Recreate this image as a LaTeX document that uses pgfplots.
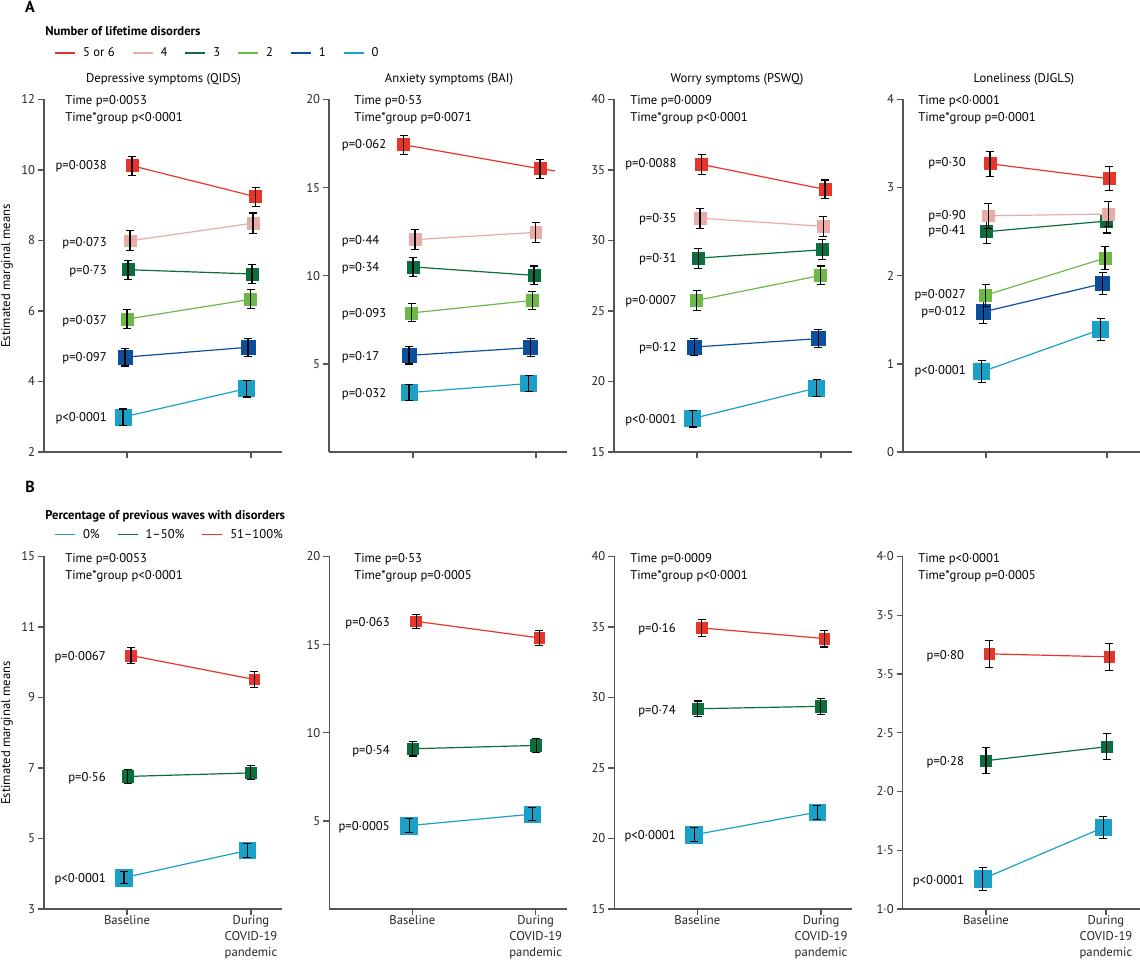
\documentclass[border=0pt]{standalone}
\usepackage{fontspec}
\setmainfont{PT Sans}
\usepackage{pgfplots}
\pgfplotsset{compat=1.18}
\definecolor{cR}{HTML}{E8352A}
\definecolor{cP}{HTML}{E9ABA7}
\definecolor{cDG}{HTML}{0B6E3E}
\definecolor{cLG}{HTML}{6DB946}
\definecolor{cB}{HTML}{0C4F9D}
\definecolor{cC}{HTML}{1BA1C7}
\definecolor{axgray}{HTML}{555555}
\newcommand{\fs}{\fontsize{9.5pt}{12pt}\selectfont}
\pgfplotsset{
  panel/.style={
    scale only axis, width=178.5pt, height=264.4pt, anchor=south west,
    xmin=0, xmax=238, clip=false, clip mode=individual,
    axis x line*=bottom, axis y line*=left,
    axis line style={axgray, line width=1pt, -},
    tick style={axgray, line width=1pt},
    tick align=outside, major tick length=4.5pt,
    xticklabels={},
    tick label style={font=\fs, text=black!85},
    yticklabel style={inner sep=0pt, xshift=-2pt},
  },
  grp/.style={color=#1, mark=square*, mark options={solid, fill=#1, draw=#1, line width=0.5pt}, line width=0.9pt},
  eb/.style={forget plot, draw=none, mark=none, error bars/.cd, y dir=both, y explicit,
     error bar style={draw=black, line width=0.8pt}, error mark options={rotate=90, draw=black, line width=0.8pt, mark size=3pt}},
  legend image code/.code={\draw[#1, line width=0.9pt] (0pt,0pt) -- (15pt,0pt);},
}
\begin{document}
\fs
\begin{tikzpicture}
\useasboundingbox (0,0) rectangle (855pt,724.5pt);

% ================= Row A =================
% A1 QIDS
\begin{axis}[panel, at={(33pt,385.5pt)}, ymin=2, ymax=12, ytick={2,4,6,8,10,12}, yticklabels={2,4,6,8,10,12}, xtick={83,207},
  legend columns=6,
  legend style={at={(0.043,1.132)}, anchor=west, draw=none, fill=none, inner sep=0pt, font=\fs,
    /tikz/every odd column/.append style={column sep=3.5pt},
    /tikz/every even column/.append style={column sep=11pt}}]
\addlegendimage{cR}\addlegendentry{5 or 6}
\addlegendimage{cP}\addlegendentry{4}
\addlegendimage{cDG}\addlegendentry{3}
\addlegendimage{cLG}\addlegendentry{2}
\addlegendimage{cB}\addlegendentry{1}
\addlegendimage{cC}\addlegendentry{0}
\addplot[grp=cC, mark size=6.0pt, forget plot] coordinates {(79,2.99) (202.7,3.80)};
\addplot[eb] coordinates {(79,2.99) +- (0,0.23) (202.7,3.80) +- (0,0.24)};
\addplot[grp=cB, mark size=5.3pt, forget plot] coordinates {(81,4.69) (204,4.97)};
\addplot[eb] coordinates {(81,4.69) +- (0,0.25) (204,4.97) +- (0,0.25)};
\addplot[grp=cLG, mark size=4.5pt, forget plot] coordinates {(83,5.77) (206.7,6.33)};
\addplot[eb] coordinates {(83,5.77) +- (0,0.27) (206.7,6.33) +- (0,0.27)};
\addplot[grp=cDG, mark size=4.5pt, forget plot] coordinates {(84,7.17) (208,7.05)};
\addplot[eb] coordinates {(84,7.17) +- (0,0.27) (208,7.05) +- (0,0.28)};
\addplot[grp=cP, mark size=4.4pt, forget plot] coordinates {(86,7.99) (209,8.49)};
\addplot[eb] coordinates {(86,7.99) +- (0,0.28) (209,8.49) +- (0,0.29)};
\addplot[grp=cR, mark size=4.5pt, forget plot] coordinates {(88,10.12) (211.7,9.24)};
\addplot[eb] coordinates {(88,10.12) +- (0,0.27) (211.7,9.24) +- (0,0.27)};
\end{axis}

% A2 BAI
\begin{axis}[panel, at={(246.75pt,385.5pt)}, ymin=0, ymax=20, ytick={5,10,15,20}, yticklabels={5,10,15,20}, xtick={84,207}]
\addplot[grp=cC, mark size=6.0pt] coordinates {(80,3.37) (199.7,3.88)};
\addplot[eb] coordinates {(80,3.37) +- (0,0.46) (199.7,3.88) +- (0,0.47)};
\addplot[grp=cB, mark size=5.3pt] coordinates {(80,5.48) (201.7,5.92)};
\addplot[eb] coordinates {(80,5.48) +- (0,0.49) (201.7,5.92) +- (0,0.50)};
\addplot[grp=cLG, mark size=4.5pt] coordinates {(82.7,7.89) (203.3,8.60)};
\addplot[eb] coordinates {(82.7,7.89) +- (0,0.51) (203.3,8.60) +- (0,0.50)};
\addplot[grp=cDG, mark size=4.5pt] coordinates {(84,10.50) (205,10.02)};
\addplot[eb] coordinates {(84,10.50) +- (0,0.54) (205,10.02) +- (0,0.53)};
\addplot[grp=cP, mark size=4.4pt] coordinates {(86,12.05) (206.7,12.46)};
\addplot[eb] coordinates {(86,12.05) +- (0,0.55) (206.7,12.46) +- (0,0.55)};
\addplot[grp=cR, mark size=4.5pt, mark indices={1,2}] coordinates {(74.7,17.43) (211,16.07) (226,15.95)};
\addplot[eb] coordinates {(74.7,17.43) +- (0,0.53) (211,16.07) +- (0,0.54)};
\end{axis}

% A3 PSWQ
\begin{axis}[panel, at={(460.5pt,385.5pt)}, ymin=15, ymax=40, ytick={15,20,25,30,35,40}, yticklabels={15,20,25,30,35,40}, xtick={83,207}]
\addplot[grp=cC, mark size=6.0pt] coordinates {(78.7,17.37) (202.7,19.54)};
\addplot[eb] coordinates {(78.7,17.37) +- (0,0.60) (202.7,19.54) +- (0,0.59)};
\addplot[grp=cB, mark size=5.3pt] coordinates {(80.3,22.44) (204.3,23.04)};
\addplot[eb] coordinates {(80.3,22.44) +- (0,0.63) (204.3,23.04) +- (0,0.64)};
\addplot[grp=cLG, mark size=4.5pt] coordinates {(82.7,25.75) (206.7,27.52)};
\addplot[eb] coordinates {(82.7,25.75) +- (0,0.69) (206.7,27.52) +- (0,0.67)};
\addplot[grp=cDG, mark size=4.5pt] coordinates {(84.3,28.75) (208.3,29.34)};
\addplot[eb] coordinates {(84.3,28.75) +- (0,0.71) (208.3,29.34) +- (0,0.70)};
\addplot[grp=cP, mark size=4.4pt] coordinates {(86,31.58) (209.3,31.00)};
\addplot[eb] coordinates {(86,31.58) +- (0,0.72) (209.3,31.00) +- (0,0.70)};
\addplot[grp=cR, mark size=4.5pt] coordinates {(87.7,35.39) (211,33.62)};
\addplot[eb] coordinates {(87.7,35.39) +- (0,0.70) (211,33.62) +- (0,0.67)};
\end{axis}

% A4 DJGLS
\begin{axis}[panel, at={(677.25pt,385.5pt)}, width=177.75pt, ymin=0, ymax=4, ytick={0,1,2,3,4}, yticklabels={0,1,2,3,4}, xmax=237, xtick={83,204}]
\addplot[grp=cC, mark size=6.0pt] coordinates {(78.7,0.91) (197.7,1.39)};
\addplot[eb] coordinates {(78.7,0.91) +- (0,0.125) (197.7,1.39) +- (0,0.12)};
\addplot[grp=cB, mark size=5.3pt] coordinates {(80.3,1.59) (199.7,1.91)};
\addplot[eb] coordinates {(80.3,1.59) +- (0,0.13) (199.7,1.91) +- (0,0.125)};
\addplot[grp=cLG, mark size=4.5pt] coordinates {(82.7,1.78) (202,2.20)};
\addplot[eb] coordinates {(82.7,1.78) +- (0,0.125) (202,2.20) +- (0,0.13)};
\addplot[grp=cDG, mark size=4.5pt] coordinates {(83.7,2.50) (203.7,2.62)};
\addplot[eb] coordinates {(83.7,2.50) +- (0,0.135) (203.7,2.62) +- (0,0.135)};
\addplot[grp=cP, mark size=4.4pt] coordinates {(85.3,2.68) (205.3,2.70)};
\addplot[eb] coordinates {(85.3,2.68) +- (0,0.14) (205.3,2.70) +- (0,0.14)};
\addplot[grp=cR, mark size=4.5pt] coordinates {(87,3.27) (206.3,3.10)};
\addplot[eb] coordinates {(87,3.27) +- (0,0.14) (206.3,3.10) +- (0,0.135)};
\end{axis}

% ================= Row B =================
\pgfplotsset{rowB/.style={xticklabels={Baseline,{During\\COVID-19\\pandemic}},
   xticklabel style={align=center, anchor=north, inner sep=0pt, font=\fontsize{9.5pt}{12pt}\selectfont}}}
% B1 QIDS
\begin{axis}[panel, rowB, at={(33pt,42.75pt)}, ymin=3, ymax=13, ytick={3,5,7,9,11,13}, yticklabels={3,5,7,9,11,15}, xtick={83,207},
  legend columns=3,
  legend style={at={(0.043,1.062)}, anchor=west, draw=none, fill=none, inner sep=0pt, font=\fs,
    /tikz/every odd column/.append style={column sep=3.5pt},
    /tikz/every even column/.append style={column sep=11pt}}]
\addlegendimage{cC}\addlegendentry{0\%}
\addlegendimage{cDG}\addlegendentry{1–50\%}
\addlegendimage{cR}\addlegendentry{51–100\%}
\addplot[grp=cC, mark size=6.2pt, forget plot] coordinates {(80,3.89) (203.3,4.66)};
\addplot[eb] coordinates {(80,3.89) +- (0,0.18) (203.3,4.66) +- (0,0.19)};
\addplot[grp=cDG, mark size=4.3pt, forget plot] coordinates {(83.7,6.76) (206.7,6.86)};
\addplot[eb] coordinates {(83.7,6.76) +- (0,0.21) (206.7,6.86) +- (0,0.20)};
\addplot[grp=cR, mark size=4.0pt, forget plot] coordinates {(87,10.19) (210.3,9.51)};
\addplot[eb] coordinates {(87,10.19) +- (0,0.23) (210.3,9.51) +- (0,0.22)};
\end{axis}

% B2 BAI
\begin{axis}[panel, rowB, at={(247pt,42.75pt)}, ymin=0, ymax=20, ytick={5,10,15,20}, yticklabels={5,10,15,20}, xtick={83,206.4}]
\addplot[grp=cC, mark size=6.2pt] coordinates {(79.7,4.73) (203,5.38)};
\addplot[eb] coordinates {(79.7,4.73) +- (0,0.38) (203,5.38) +- (0,0.38)};
\addplot[grp=cDG, mark size=4.3pt] coordinates {(83.3,9.09) (206.7,9.28)};
\addplot[eb] coordinates {(83.3,9.09) +- (0,0.41) (206.7,9.28) +- (0,0.41)};
\addplot[grp=cR, mark size=4.0pt] coordinates {(86.7,16.32) (210,15.38)};
\addplot[eb] coordinates {(86.7,16.32) +- (0,0.40) (210,15.38) +- (0,0.43)};
\end{axis}

% B3 PSWQ
\begin{axis}[panel, rowB, at={(460.75pt,42.75pt)}, ymin=15, ymax=40, ytick={15,20,25,30,35,40}, yticklabels={15,20,25,30,35,40}, xtick={83,206.7}]
\addplot[grp=cC, mark size=6.2pt] coordinates {(79.7,20.26) (203,21.87)};
\addplot[eb] coordinates {(79.7,20.26) +- (0,0.50) (203,21.87) +- (0,0.50)};
\addplot[grp=cDG, mark size=4.3pt] coordinates {(83.4,29.20) (206.4,29.37)};
\addplot[eb] coordinates {(83.4,29.20) +- (0,0.55) (206.4,29.37) +- (0,0.55)};
\addplot[grp=cR, mark size=4.0pt] coordinates {(87.4,34.93) (210,34.18)};
\addplot[eb] coordinates {(87.4,34.93) +- (0,0.60) (210,34.18) +- (0,0.60)};
\end{axis}

% B4 DJGLS
\begin{axis}[panel, rowB, at={(677pt,42.75pt)}, width=177.75pt, xmax=237, ymin=1, ymax=4, ytick={1,1.5,2,2.5,3,3.5,4}, yticklabels={1·0,1·5,2·0,2·5,3·5,3·5,4·0}, xtick={83.3,203.3}]
\addplot[grp=cC, mark size=6.2pt] coordinates {(80,1.256) (200.6,1.693)};
\addplot[eb] coordinates {(80,1.256) +- (0,0.097) (200.6,1.693) +- (0,0.097)};
\addplot[grp=cDG, mark size=4.3pt] coordinates {(83.3,2.262) (204,2.381)};
\addplot[eb] coordinates {(83.3,2.262) +- (0,0.11) (204,2.381) +- (0,0.11)};
\addplot[grp=cR, mark size=4.0pt] coordinates {(86.6,3.171) (206.6,3.146)};
\addplot[eb] coordinates {(86.6,3.171) +- (0,0.113) (206.6,3.146) +- (0,0.113)};
\end{axis}

% ================= Text =================
\begin{scope}[x=0.75pt, y=-0.75pt, shift={(0pt,724.5pt)}, font=\fs,
  pl/.style={anchor=base east, inner sep=0pt},
  plw/.style={anchor=base west, inner sep=0pt},
  tt/.style={anchor=base west, inner sep=0pt}]
\node[font=\bfseries\fontsize{12pt}{14pt}\selectfont] at (30,7) {A};
\node[font=\bfseries\fontsize{12pt}{14pt}\selectfont] at (30,487) {B};
\node[anchor=base west, inner sep=0pt, font=\bfseries\fs] at (45,36) {Number of lifetime disorders};
\node[anchor=base west, inner sep=0pt, font=\bfseries\fs] at (45,520) {Percentage of previous waves with disorders};
\node[rotate=90] at (7,276) {Estimated marginal means};
\node[rotate=90] at (7,733) {Estimated marginal means};
% titles
\node[anchor=base] at (163.5,82.7) {Depressive symptoms (QIDS)};
\node[anchor=base] at (449,82.7) {Anxiety symptoms (BAI)};
\node[anchor=base] at (737,82.7) {Worry symptoms (PSWQ)};
\node[anchor=base] at (1024,82.7) {Loneliness (DJGLS)};
% time texts
\node[tt] at (65,104.3) {Time p=0·0053};
\node[tt] at (65,121.7) {Time*group p<0·0001};
\node[tt] at (354,104.3) {Time p=0·53};
\node[tt] at (354,121.7) {Time*group p=0·0071};
\node[tt] at (630,104.3) {Time p=0·0009};
\node[tt] at (630,121.7) {Time*group p<0·0001};
\node[tt] at (918,104.3) {Time p<0·0001};
\node[tt] at (918,121.7) {Time*group p=0·0001};
\node[tt] at (65,562.7) {Time p=0·0053};
\node[tt] at (65,579.3) {Time*group p<0·0001};
\node[tt] at (354,562.7) {Time p=0·53};
\node[tt] at (354,579.3) {Time*group p=0·0005};
\node[tt] at (630,562.7) {Time p=0·0009};
\node[tt] at (630,579.3) {Time*group p<0·0001};
\node[tt] at (918,562.7) {Time p<0·0001};
\node[tt] at (918,579.3) {Time*group p=0·0005};
% p labels A1
\node[pl] at (107,170.0) {p=0·0038};
\node[pl] at (107,246.3) {p=0·073};
\node[pl] at (107,274.3) {p=0·73};
\node[pl] at (107,324.3) {p=0·037};
\node[pl] at (107,362.0) {p=0·097};
\node[pl] at (107,421.3) {p<0·0001};
% A2
\node[plw] at (341.7,148.6) {p=0·062};
\node[plw] at (341.7,244.3) {p=0·44};
\node[plw] at (341.7,271.3) {p=0·34};
\node[plw] at (341.7,317.3) {p=0·093};
\node[plw] at (341.7,360.3) {p=0·17};
\node[plw] at (341.7,397.3) {p=0·032};
% A3
\node[pl] at (676.7,167.6) {p=0·0088};
\node[pl] at (676.7,222.6) {p=0·35};
\node[pl] at (676.7,262.6) {p=0·31};
\node[pl] at (676.7,305.0) {p=0·0007};
\node[pl] at (676.7,351.6) {p=0·12};
\node[pl] at (676.7,423.6) {p<0·0001};
% A4
\node[pl] at (966,167.0) {p=0·30};
\node[pl] at (966,219.3) {p=0·90};
\node[pl] at (966,235.0) {p=0·41};
\node[pl] at (966,298.3) {p=0·0027};
\node[pl] at (966,316.0) {p=0·012};
\node[pl] at (966,375.0) {p<0·0001};
% B1
\node[pl] at (106,661.0) {p=0·0067};
\node[pl] at (106,781.6) {p=0·56};
\node[pl] at (106,882.6) {p<0·0001};
% B2
\node[pl] at (390,626.6) {p=0·063};
\node[pl] at (390,754.3) {p=0·54};
\node[pl] at (390,830.3) {p=0·0005};
% B3
\node[pl] at (676,632.6) {p=0·16};
\node[pl] at (676,714.3) {p=0·74};
\node[pl] at (676,840.0) {p<0·0001};
% B4
\node[pl] at (964.3,659.3) {p=0·80};
\node[pl] at (964.3,766.0) {p=0·28};
\node[pl] at (964.3,885.0) {p<0·0001};
\end{scope}
\end{tikzpicture}
\end{document}
